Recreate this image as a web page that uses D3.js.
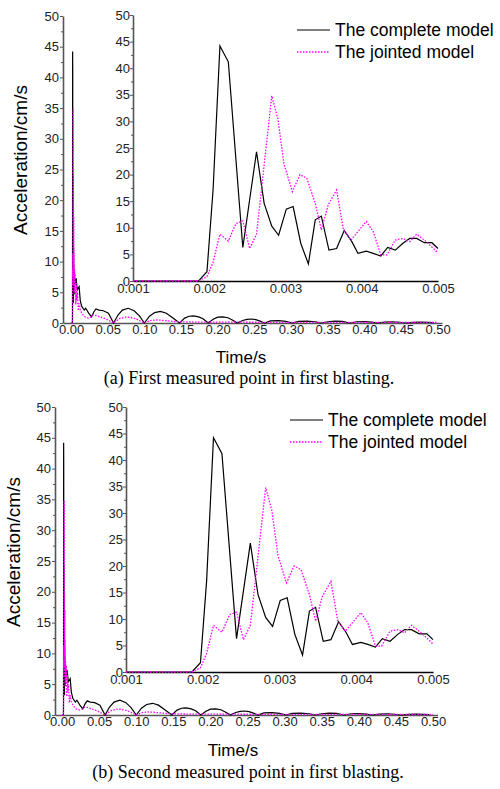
<!DOCTYPE html>
<html>
<head>
<meta charset="utf-8">
<script src="https://cdn.jsdelivr.net/npm/d3@7"></script>
<style>
  body { margin: 0; background: #fff; }
  svg { display: block; font-family: "Liberation Sans", Arial, sans-serif; }
</style>
</head>
<body>
<div id="chart"></div>
<script>
// --- inset window (0.001 - 0.005 s)
const completeInsetT = [0.0010, 0.0018, 0.00186, 0.00197, 0.00205, 0.00214, 0.00225, 0.00244, 0.00262, 0.00272,
  0.00282, 0.00291, 0.00301, 0.0031, 0.0032, 0.0033, 0.00339, 0.00347, 0.00357, 0.00367, 0.00377, 0.00387,
  0.00395, 0.00406, 0.00415, 0.00425, 0.00434, 0.00444, 0.00454, 0.00463, 0.00472, 0.00482, 0.00492, 0.0050];
const completeInsetV = [0, 0, 0, 1.75, 17.1, 44.2, 41.2, 6.3, 24.3, 14.6,
  10.3, 8.6, 13.5, 14.0, 7.1, 3.2, 11.5, 12.2, 5.8, 6.1, 9.5, 7.4,
  5.2, 5.6, 5.2, 4.7, 6.3, 5.8, 7.1, 8.0, 8.0, 7.2, 7.2, 6.1];

const jointedInsetT = [0.0010, 0.00186, 0.00197, 0.00205, 0.00214, 0.00225, 0.00235, 0.00244, 0.00253, 0.00262,
  0.00282, 0.0029, 0.00298, 0.00309, 0.00319, 0.00328, 0.00339, 0.00347, 0.00356, 0.00367, 0.00376, 0.00386,
  0.00395, 0.00406, 0.00415, 0.00425, 0.00433, 0.00444, 0.00454, 0.00463, 0.00472, 0.00482, 0.00492, 0.0050];
const jointedInsetV = [0, 0, 0.8, 3.5, 8.8, 7.5, 10.8, 11.3, 6.1, 8.8,
  34.8, 30.5, 22.0, 16.8, 20.0, 19.3, 14.6, 9.6, 14.3, 17.1, 9.6, 7.7,
  9.3, 11.2, 9.3, 4.9, 4.9, 7.7, 8.0, 7.4, 8.8, 7.7, 6.4, 5.3];

// --- rest of the record (0.005 - 0.5 s)
const completeTailT = [0.0068, 0.0085, 0.011, 0.0125, 0.0145, 0.018, 0.020, 0.024, 0.028, 0.031, 0.034, 0.038,
  0.044, 0.051, 0.058, 0.064, 0.070, 0.078, 0.086, 0.093, 0.100, 0.107, 0.114, 0.122, 0.130, 0.138, 0.148,
  0.155, 0.161, 0.167, 0.174, 0.180, 0.187, 0.194, 0.200, 0.207, 0.214, 0.220, 0.227, 0.234, 0.240, 0.246,
  0.252, 0.258, 0.264, 0.272, 0.283, 0.293, 0.302, 0.31, 0.322, 0.333, 0.341, 0.35, 0.36, 0.37, 0.38, 0.39,
  0.40, 0.41, 0.418, 0.428, 0.438, 0.448, 0.457, 0.467, 0.477, 0.487, 0.495];
const completeTailV = [7.3, 5.4, 5.9, 3.7, 2.7, 2.1, 2.4, 1.6, 1.0, 1.8, 2.3, 2.1,
  2.0, 1.6, 0, 1.3, 2.1, 2.4, 2.0, 1.2, 0, 1.1, 1.7, 1.9, 1.6, 0.9, 0,
  0.8, 1.1, 1.15, 1.0, 0.7, 0, 0.6, 0.95, 1.0, 0.85, 0.5, 0, 0.4, 0.6, 0.65,
  0.55, 0.3, 0, 0.35, 0.4, 0.25, 0, 0.25, 0.3, 0.2, 0, 0.2, 0.3, 0.25, 0, 0.2,
  0.22, 0.15, 0, 0.15, 0.2, 0.12, 0, 0.1, 0.15, 0.1, 0.05];

const jointedTailT = [0.0058, 0.0065, 0.0072, 0.0078, 0.0088, 0.0098, 0.011, 0.0125, 0.015, 0.019, 0.0236,
  0.027, 0.030, 0.035, 0.040, 0.0486, 0.058, 0.066, 0.076, 0.088, 0.100, 0.108, 0.117, 0.128, 0.140, 0.15,
  0.17, 0.2, 0.25, 0.3, 0.35, 0.4, 0.45, 0.5];
const jointedTailV = [8.0, 3.0, 6.5, 3.7, 5.0, 2.0, 3.2, 2.2, 1.5, 1.0, 0.8,
  1.0, 1.3, 1.2, 1.0, 0.6, 0, 0.7, 1.0, 0.7, 0, 0.4, 0.5, 0.4, 0.25, 0.2,
  0.15, 0.15, 0.12, 0.1, 0.1, 0.1, 0.08, 0.08];

const seriesNames = ["The complete model", "The jointed model"];
const mainTicksX = [0, 0.05, 0.1, 0.15, 0.2, 0.25, 0.3, 0.35, 0.4, 0.45, 0.5];
const insetTicksX = [0.001, 0.002, 0.003, 0.004, 0.005];
const ticksY = [0, 5, 10, 15, 20, 25, 30, 35, 40, 45, 50];
const captions = ["(a) First measured point in first blasting.", "(b) Second measured point in first blasting."];

const zip = (ts, vs) => ts.map((t, i) => ({ t: t, v: vs[i] }));
const completeInset = zip(completeInsetT, completeInsetV);
const jointedInset = zip(jointedInsetT, jointedInsetV);
const completeMain = [{ t: 0, v: 0 }].concat(completeInset, zip(completeTailT, completeTailV));
const jointedMain = [{ t: 0, v: 0 }].concat(jointedInset, zip(jointedTailT, jointedTailV));

const svg = d3.select("#chart").append("svg").attr("width", 500).attr("height", 789);

function styleAxis(g, color) {
  g.select(".domain").attr("stroke", color).attr("stroke-width", 1.6);
  g.selectAll(".tick line").attr("stroke", color);
  g.selectAll(".tick text").attr("fill", "#222").attr("font-size", 13)
    .attr("font-family", "Liberation Sans, Arial, sans-serif");
}

function drawPanel(cfg) {
  const g = svg.append("g");

  // main axes
  const x = d3.scaleLinear().domain(cfg.xDomain).range(cfg.xRange);
  const y = d3.scaleLinear().domain([0, 50]).range([cfg.yBottom, cfg.yTop]);

  const minorY = d3.range(2.5, 50, 5);

  g.append("g").attr("transform", `translate(${cfg.xRange[0]},0)`)
    .call(d3.axisLeft(y).tickValues(minorY).tickSize(2).tickSizeOuter(0).tickFormat(""))
    .call(a => a.select(".domain").remove())
    .selectAll("line").attr("stroke", "#555");
  g.append("g").attr("transform", `translate(${cfg.xRange[0]},0)`)
    .call(d3.axisLeft(y).tickValues(ticksY).tickSize(3).tickPadding(1).tickSizeOuter(0))
    .call(a => styleAxis(a, "#555"));

  g.append("g").attr("transform", `translate(0,${cfg.yBottom})`)
    .call(d3.axisBottom(x).tickValues(mainTicksX).tickSize(0).tickPadding(2).tickSizeOuter(0)
      .tickFormat(d3.format(".2f")))
    .call(a => styleAxis(a, "#555"));

  const lineMain = d3.line().x(d => x(d.t)).y(d => y(d.v));
  g.append("path").datum(completeMain).attr("d", lineMain)
    .attr("fill", "none").attr("stroke", "#000").attr("stroke-width", 1.2);
  g.append("path").datum(jointedMain).attr("d", lineMain)
    .attr("fill", "none").attr("stroke", "#ff00ff").attr("stroke-width", 1.3)
    .attr("stroke-dasharray", "1.5,1.5");

  // inset
  const xi = d3.scaleLinear().domain([0.001, 0.005]).range([cfg.insetX0, cfg.insetX1]);
  const yi = d3.scaleLinear().domain([0, 50]).range([cfg.insetBottom, cfg.insetTop]);

  g.append("g").attr("transform", `translate(${cfg.insetX0},0)`)
    .call(d3.axisLeft(yi).tickValues(minorY).tickSize(2).tickSizeOuter(0).tickFormat(""))
    .call(a => a.select(".domain").remove())
    .selectAll("line").attr("stroke", "#555");
  g.append("g").attr("transform", `translate(${cfg.insetX0},0)`)
    .call(d3.axisLeft(yi).tickValues(ticksY).tickSize(3).tickPadding(0).tickSizeOuter(0))
    .call(a => styleAxis(a, "#555"));

  g.append("g").attr("transform", `translate(0,${cfg.insetBottom})`)
    .call(d3.axisBottom(xi).tickValues(insetTicksX).tickSize(0).tickPadding(3).tickSizeOuter(0)
      .tickFormat(d3.format(".3f")))
    .call(a => styleAxis(a, "#000"))
    .call(a => a.select(".domain").attr("stroke-width", 1.3));

  const lineInset = d3.line().x(d => xi(d.t)).y(d => yi(d.v));
  g.append("path").datum(completeInset).attr("d", lineInset)
    .attr("fill", "none").attr("stroke", "#000").attr("stroke-width", 1.2);
  g.append("path").datum(jointedInset).attr("d", lineInset)
    .attr("fill", "none").attr("stroke", "#ff00ff").attr("stroke-width", 1.3)
    .attr("stroke-dasharray", "1.5,1.5");

  // legend
  const legend = g.append("g").attr("transform", `translate(${cfg.legendX},${cfg.legendY})`);
  seriesNames.forEach((name, i) => {
    const row = legend.append("g").attr("transform", `translate(0,${i * 22})`);
    row.append("line").attr("x1", 0).attr("x2", 33).attr("y1", 0).attr("y2", 0)
      .attr("stroke", i === 0 ? "#555" : "#ff00ff")
      .attr("stroke-width", i === 0 ? 1.6 : 1.3)
      .attr("stroke-dasharray", i === 0 ? null : "1.5,1.5");
    row.append("text").attr("x", 38).attr("y", 6).attr("font-size", 17.5).attr("fill", "#000").text(name);
  });

  // axis titles
  g.append("text")
    .attr("transform", `translate(${cfg.yLabelX},${cfg.yLabelY}) rotate(-90)`)
    .attr("text-anchor", "middle").attr("font-size", 19).text("Acceleration/cm/s");
  g.append("text").attr("x", cfg.timeX).attr("y", cfg.timeY)
    .attr("text-anchor", "middle").attr("font-size", 17).text("Time/s");

  // caption
  g.append("text").attr("x", cfg.captionX).attr("y", cfg.captionY)
    .attr("text-anchor", "middle").attr("font-size", 18)
    .attr("font-family", "Liberation Serif, Times New Roman, serif")
    .text(cfg.caption);
}

drawPanel({
  xDomain: [-0.011, 0.506], xRange: [63, 442], yTop: 16, yBottom: 323,
  insetX0: 133, insetX1: 438, insetTop: 15, insetBottom: 281,
  legendX: 297, legendY: 30,
  yLabelX: 27, yLabelY: 160, timeX: 241, timeY: 363,
  captionX: 249, captionY: 384, caption: captions[0]
});

drawPanel({
  xDomain: [-0.0095, 0.506], xRange: [55, 437.5], yTop: 407, yBottom: 715,
  insetX0: 126, insetX1: 433, insetTop: 407, insetBottom: 672,
  legendX: 290, legendY: 420,
  yLabelX: 20, yLabelY: 552, timeX: 233, timeY: 756,
  captionX: 248, captionY: 778, caption: captions[1]
});
</script>
</body>
</html>
